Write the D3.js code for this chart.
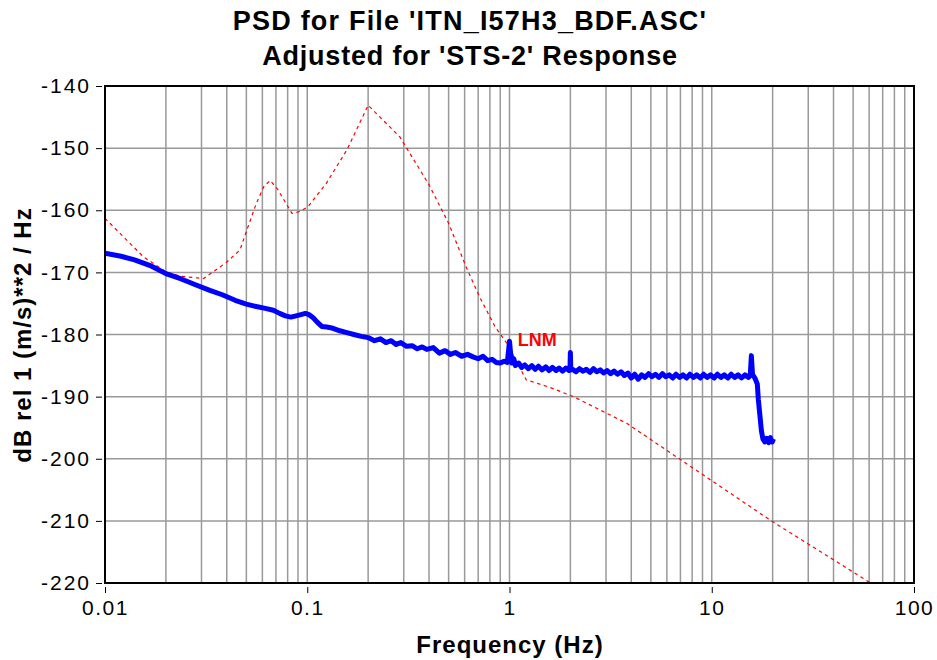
<!DOCTYPE html>
<html>
<head>
<meta charset="utf-8">
<script src="https://cdn.jsdelivr.net/npm/d3@7"></script>
<style>
  body { margin: 0; background: #fff; }
  text { font-family: "Liberation Sans", Arial, sans-serif; }
</style>
</head>
<body>
<div id="chart"></div>
<script>
// measured PSD (blue)
const psdFreq = [0.01, 0.012, 0.014, 0.017, 0.02, 0.024, 0.028, 0.033, 0.038, 0.044,
  0.05, 0.056, 0.062, 0.068, 0.073, 0.078, 0.083, 0.088, 0.093, 0.098,
  0.102, 0.107, 0.112, 0.118, 0.125, 0.134, 0.145, 0.157, 0.17, 0.185,
  0.2, 0.215, 0.23, 0.245, 0.26, 0.275, 0.29, 0.31, 0.33, 0.35,
  0.37, 0.39, 0.42, 0.45, 0.48, 0.51, 0.54, 0.58, 0.62, 0.66,
  0.7, 0.74, 0.78, 0.82, 0.86, 0.9, 0.94, 0.975, 0.99, 1.0,
  1.01, 1.025, 1.05, 1.07, 1.11, 1.15, 1.19, 1.24, 1.29, 1.34,
  1.39, 1.45, 1.51, 1.57, 1.63, 1.7, 1.76, 1.83, 1.9, 1.97,
  1.99, 2.0, 2.01, 2.05, 2.13, 2.22, 2.31, 2.4, 2.5, 2.6,
  2.7, 2.81, 2.92, 3.04, 3.16, 3.29, 3.42, 3.56, 3.7, 3.85,
  4.0, 4.16, 4.33, 4.5, 4.68, 4.87, 5.06, 5.27, 5.48, 5.7,
  5.92, 6.16, 6.41, 6.66, 6.93, 7.21, 7.5, 7.8, 8.11, 8.43,
  8.77, 9.12, 9.49, 9.87, 10.26, 10.67, 11.1, 11.54, 12.0, 12.48,
  12.98, 13.5, 14.04, 14.6, 15.2, 15.5, 15.7, 15.9, 16.1, 16.4,
  16.8, 17.0, 17.3, 17.6, 17.9, 18.3, 18.7, 19.1, 19.5, 19.9, 20.2];
const psdDb = [-166.9, -167.4, -168.0, -169.0, -170.2, -171.1, -172.0, -172.9, -173.6, -174.5,
  -175.1, -175.5, -175.8, -176.1, -176.6, -177.0, -177.2, -177.0, -176.8, -176.6,
  -176.8, -177.3, -178.0, -178.7, -178.8, -179.0, -179.4, -179.7, -180.0, -180.3,
  -180.5, -181.0, -180.7, -181.3, -181.0, -181.6, -181.3, -181.9, -181.8, -182.3,
  -182.0, -182.4, -182.1, -183.0, -182.6, -183.2, -182.9, -183.5, -183.2, -183.6,
  -183.9, -183.5, -184.2, -184.0, -184.5, -184.6, -184.3, -184.5, -182.5, -181.1,
  -182.6, -184.6, -183.9, -185.0, -184.6, -185.3, -184.9, -185.5, -185.0, -185.6,
  -185.1, -185.7, -185.2, -185.8, -185.3, -185.8, -185.4, -185.9, -185.4, -185.8,
  -185.7, -182.9, -185.7, -185.6, -186.0, -185.5, -185.9, -185.6, -186.1, -185.5,
  -186.0, -185.7, -186.2, -185.8, -186.3, -185.9, -186.4, -186.0, -186.6, -186.2,
  -187.0, -186.4, -187.2, -186.5, -186.9, -186.3, -186.8, -186.4, -186.9, -186.3,
  -186.8, -186.5, -187.0, -186.4, -186.9, -186.5, -187.0, -186.4, -186.9, -186.5,
  -187.0, -186.4, -186.9, -186.5, -187.0, -186.4, -186.9, -186.5, -187.0, -186.4,
  -186.9, -186.5, -187.0, -186.5, -186.9, -186.6, -183.4, -186.4, -186.7, -187.1,
  -188.0, -190.5, -193.0, -195.5, -196.8, -197.3, -196.7, -197.4, -196.6, -197.3, -196.8];

// Peterson low noise model (red dashed)
const lnmFreq = [0.01, 0.0155, 0.02, 0.0235, 0.0307, 0.0398, 0.0465, 0.05, 0.056, 0.061,
  0.0655, 0.071, 0.084, 0.092, 0.101, 0.124, 0.157, 0.2, 0.287, 0.4,
  0.5, 0.61, 0.71, 0.85, 0.97, 1.21, 1.58, 2.07, 3.8, 7.2, 19.7, 61];
const lnmDb = [-161.3, -167.5, -169.9, -170.6, -171.0, -168.4, -166.4, -163.4, -158.9, -156.2,
  -155.2, -156.5, -160.5, -160.2, -159.4, -155.7, -150.3, -143.1, -148.2, -155.9,
  -162.1, -169.1, -173.9, -178.8, -181.4, -187.3, -188.5, -190.0, -194.3, -200.4, -210.0, -220.0];

const xTicks = [0.01, 0.1, 1, 10, 100];
const xTickLabels = ["0.01", "0.1", "1", "10", "100"];
const yTicks = [-140, -150, -160, -170, -180, -190, -200, -210, -220];

const W = 937, H = 660;
const m = {left: 105, right: 23, top: 86, bottom: 77};

const svg = d3.select("#chart").append("svg")
    .attr("width", W).attr("height", H);

const x = d3.scaleLog().domain([0.01, 100]).range([m.left, W - m.right]);
const y = d3.scaleLinear().domain([-220, -140]).range([H - m.bottom, m.top]);

// grid - all the minor decade lines
const minor = [];
for (let d = 0.01; d < 100; d *= 10) {
  for (let k = 2; k <= 9; k++) minor.push(d * k);
}
minor.push(0.1, 1, 10);

svg.append("g").selectAll("line").data(minor).join("line")
    .attr("x1", d => x(d)).attr("x2", d => x(d))
    .attr("y1", m.top).attr("y2", H - m.bottom)
    .attr("stroke", "#999").attr("stroke-width", 1.5);

svg.append("g").selectAll("line").data(yTicks).join("line")
    .attr("x1", m.left).attr("x2", W - m.right)
    .attr("y1", d => y(d)).attr("y2", d => y(d))
    .attr("stroke", "#999").attr("stroke-width", 1.5);

// clip
svg.append("clipPath").attr("id", "clip").append("rect")
    .attr("x", m.left).attr("y", m.top)
    .attr("width", W - m.left - m.right).attr("height", H - m.top - m.bottom);

const line = d3.line().x(d => x(d[0])).y(d => y(d[1]));

svg.append("path")
    .datum(d3.zip(lnmFreq, lnmDb))
    .attr("clip-path", "url(#clip)")
    .attr("d", line)
    .attr("fill", "none")
    .attr("stroke", "#ff0000")
    .attr("stroke-width", 1.2)
    .attr("stroke-dasharray", "3.5,3.5");

svg.append("path")
    .datum(d3.zip(psdFreq, psdDb))
    .attr("clip-path", "url(#clip)")
    .attr("d", line)
    .attr("fill", "none")
    .attr("stroke", "#0000ff")
    .attr("stroke-width", 5)
    .attr("stroke-linejoin", "round");

// frame
svg.append("rect")
    .attr("x", m.left).attr("y", m.top)
    .attr("width", W - m.left - m.right).attr("height", H - m.top - m.bottom)
    .attr("fill", "none").attr("stroke", "#000").attr("stroke-width", 2);

// y axis
const yAxis = d3.axisLeft(y).tickValues(yTicks).tickFormat(d => String(d)).tickSize(6).tickPadding(5);
const gy = svg.append("g").attr("transform", `translate(${m.left - 3},0)`).call(yAxis);
gy.select(".domain").remove();
gy.selectAll("text").style("font-size", "21px").style("letter-spacing", "2px").attr("fill", "#000");

// x axis
const xAxis = d3.axisBottom(x).tickValues(xTicks).tickFormat((d, i) => xTickLabels[i]).tickSize(6).tickPadding(7);
const gx = svg.append("g").attr("transform", `translate(0,${H - m.bottom + 4})`).call(xAxis);
gx.select(".domain").remove();
gx.selectAll("text").style("font-size", "21px").style("letter-spacing", "1.5px").attr("fill", "#000");

// titles
svg.append("text").attr("x", 470).attr("y", 30).attr("text-anchor", "middle")
    .style("font-size", "27px").style("font-weight", "bold").style("letter-spacing", "1.2px")
    .text("PSD for File 'ITN_I57H3_BDF.ASC'");
svg.append("text").attr("x", 470).attr("y", 65).attr("text-anchor", "middle")
    .style("font-size", "27px").style("font-weight", "bold").style("letter-spacing", "0.8px")
    .text("Adjusted for 'STS-2' Response");

svg.append("text").attr("x", 510).attr("y", 653).attr("text-anchor", "middle")
    .style("font-size", "24px").style("font-weight", "bold").style("letter-spacing", "1px")
    .text("Frequency (Hz)");

svg.append("text")
    .attr("transform", "translate(31,335) rotate(-90)")
    .attr("text-anchor", "middle")
    .style("font-size", "24px").style("font-weight", "bold").style("letter-spacing", "1px")
    .text("dB rel 1 (m/s)**2 / Hz");

// LNM label
svg.append("text").attr("x", x(1.1)).attr("y", y(-181.9))
    .attr("fill", "#ff0000")
    .style("font-size", "18px").style("font-weight", "bold")
    .text("LNM");
</script>
</body>
</html>
